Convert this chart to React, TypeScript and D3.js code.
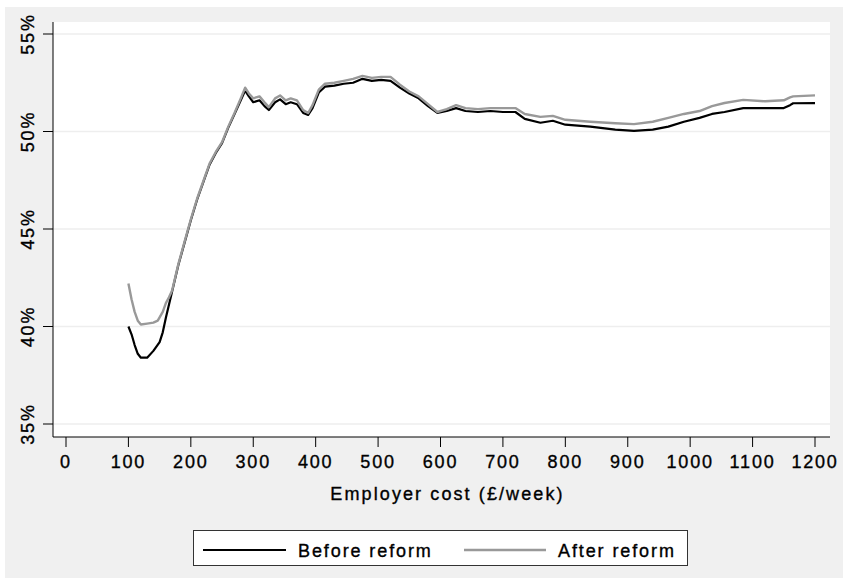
import React from "react";
import * as d3 from "d3";

const xTicks = [0, 100, 200, 300, 400, 500, 600, 700, 800, 900, 1000, 1100, 1200];
const yTicks = [0.35, 0.40, 0.45, 0.50, 0.55];

const beforeX = [100,105,110,115,120,130,140,150,155,160,170,180,190,200,210,220,230,240,250,260,270,280,287,293,300,310,318,325,335,343,352,360,370,380,388,395,405,415,430,445,460,475,490,505,520,535,550,565,580,595,610,625,640,660,680,700,720,735,760,780,800,840,880,910,940,965,990,1015,1035,1055,1085,1120,1150,1160,1165,1200];
const beforeY = [40.0,39.6,39.05,38.6,38.4,38.4,38.75,39.2,39.7,40.45,41.8,43.15,44.3,45.45,46.5,47.4,48.3,48.9,49.4,50.2,50.9,51.6,52.1,51.8,51.5,51.6,51.3,51.1,51.5,51.65,51.4,51.5,51.4,50.95,50.85,51.2,52.0,52.3,52.35,52.45,52.5,52.7,52.6,52.65,52.6,52.25,51.95,51.7,51.3,50.95,51.05,51.2,51.05,51.0,51.05,51.0,51.0,50.65,50.45,50.55,50.35,50.25,50.1,50.03,50.1,50.25,50.5,50.7,50.9,51.0,51.2,51.2,51.2,51.35,51.45,51.46];

const afterX = [100,105,110,115,120,130,140,147,155,160,165,170,180,190,200,210,220,230,240,250,260,270,280,287,293,300,310,318,325,335,343,352,360,370,380,388,395,405,415,430,445,460,475,490,505,520,535,550,565,580,595,610,625,640,660,680,700,720,735,760,780,800,840,880,910,940,965,990,1015,1035,1055,1085,1120,1150,1160,1165,1200];
const afterY = [42.2,41.4,40.75,40.3,40.1,40.15,40.2,40.3,40.75,41.2,41.5,41.85,43.2,44.35,45.5,46.55,47.45,48.35,48.95,49.45,50.25,50.95,51.7,52.25,51.95,51.7,51.8,51.5,51.25,51.7,51.85,51.6,51.7,51.6,51.1,50.95,51.35,52.15,52.45,52.5,52.6,52.7,52.85,52.75,52.8,52.8,52.4,52.05,51.8,51.4,51.0,51.15,51.35,51.2,51.15,51.2,51.2,51.2,50.9,50.75,50.8,50.6,50.5,50.42,50.38,50.5,50.7,50.9,51.05,51.3,51.46,51.62,51.55,51.6,51.75,51.8,51.85];

const seriesNames = ["Before reform", "After reform"];
const xTitle = "Employer cost (£/week)";

const W = 844, H = 579;
const plot = { left: 53, right: 830, top: 22, bottom: 437 };
const FONT = "'Liberation Sans', Arial, sans-serif";
const textStyle = { stroke: "#000", strokeWidth: 0.35 };

export default function App() {
  const x = d3.scaleLinear().domain([0, 1200]).range([66, 815]);
  const y = d3.scaleLinear().domain([0.35, 0.55]).range([424, 34]);
  const line = d3
    .line<[number, number]>()
    .x((d) => x(d[0]))
    .y((d) => y(d[1] / 100));
  const before = beforeX.map((v, i) => [v, beforeY[i]] as [number, number]);
  const after = afterX.map((v, i) => [v, afterY[i]] as [number, number]);
  const pct = d3.format(".0%");

  return (
    <svg width={W} height={H} style={{ position: "absolute", left: 0, top: 0 }} fontFamily={FONT}>
      <rect x={0} y={0} width={W} height={H} fill="#ffffff" />
      <rect x={5} y={7} width={838} height={571} fill="#f0f0f0" />
      <rect x={plot.left} y={plot.top} width={plot.right - plot.left} height={plot.bottom - plot.top} fill="#ffffff" />
      {yTicks.map((t) => (
        <line key={"g" + t} x1={plot.left} x2={plot.right} y1={y(t)} y2={y(t)} stroke="#eeeeee" strokeWidth={1.5} />
      ))}
      <line x1={plot.left} x2={plot.left} y1={plot.top} y2={plot.bottom} stroke="#000" strokeWidth={1} />
      <line x1={plot.left} x2={plot.right} y1={plot.bottom} y2={plot.bottom} stroke="#000" strokeWidth={1} />
      {yTicks.map((t) => (
        <g key={"y" + t}>
          <line x1={43} x2={plot.left} y1={y(t)} y2={y(t)} stroke="#000" />
          <text
            transform={`translate(34,${y(t)}) rotate(-90)`}
            textAnchor="middle"
            fontSize={18}
            letterSpacing={1.8}
            fill="#000"
            style={textStyle}
          >
            {pct(t)}
          </text>
        </g>
      ))}
      {xTicks.map((t) => (
        <g key={"x" + t}>
          <line x1={x(t)} x2={x(t)} y1={plot.bottom} y2={447} stroke="#000" />
          <text x={x(t)} y={468} textAnchor="middle" fontSize={18} letterSpacing={1.8} fill="#000" style={textStyle}>
            {t}
          </text>
        </g>
      ))}
      <text x={(plot.left + plot.right) / 2 + 6} y={500} textAnchor="middle" fontSize={18} letterSpacing={2.1} fill="#000" style={textStyle}>
        {xTitle}
      </text>
      <path d={line(before) || ""} fill="none" stroke="#000000" strokeWidth={2.2} strokeLinejoin="round" />
      <path d={line(after) || ""} fill="none" stroke="#999999" strokeWidth={2.4} strokeLinejoin="round" />
      <rect x={193.5} y={530.5} width={494} height={35} fill="#ffffff" stroke="#333" strokeWidth={1} />
      <line x1={203} x2={286} y1={550} y2={550} stroke="#000" strokeWidth={2.2} />
      <text x={298} y={557} fontSize={18} letterSpacing={1.9} fill="#000" style={textStyle}>{seriesNames[0]}</text>
      <line x1={464} x2={546} y1={550} y2={550} stroke="#999999" strokeWidth={2.4} />
      <text x={558} y={557} fontSize={18} letterSpacing={1.9} fill="#000" style={textStyle}>{seriesNames[1]}</text>
    </svg>
  );
}
